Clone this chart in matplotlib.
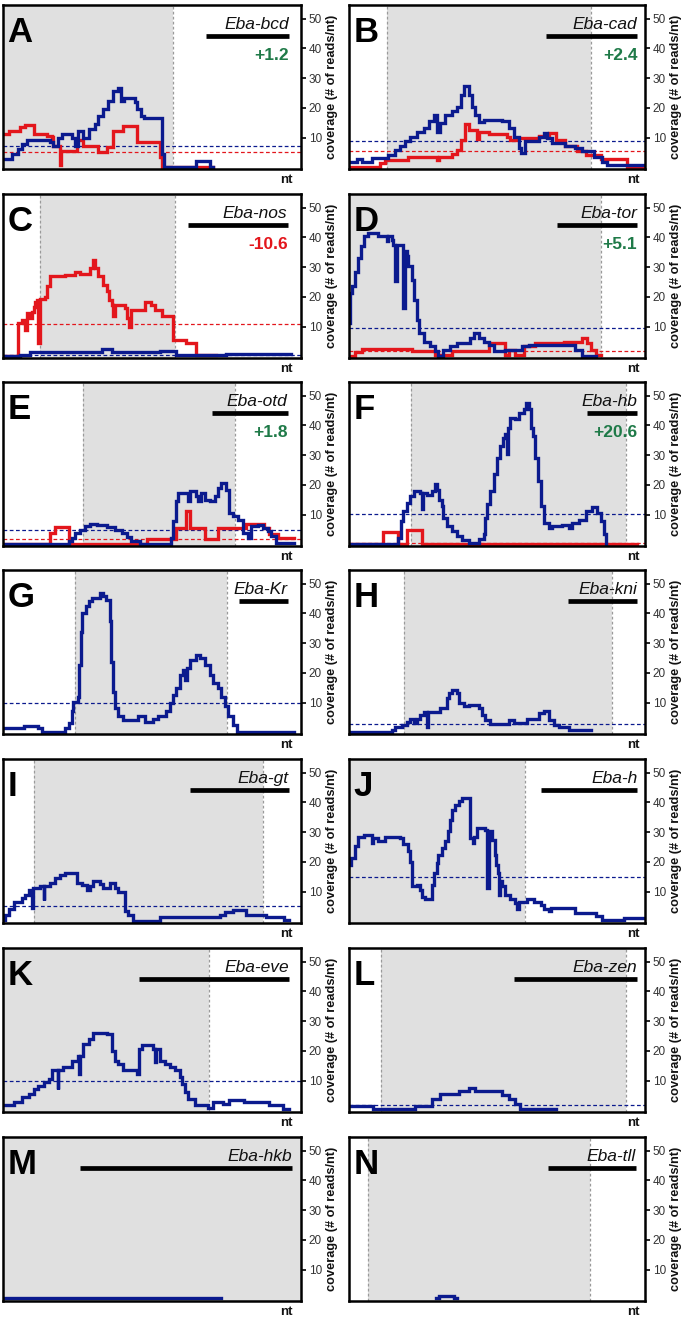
import matplotlib
matplotlib.use('Agg')
import matplotlib.pyplot as plt

plt.rcParams['font.family'] = ['Liberation Sans', 'DejaVu Sans']

# ---------------- data (x in % of panel width, y = coverage) ----------------
letters = ['A', 'B', 'C', 'D', 'E', 'F', 'G', 'H', 'I', 'J', 'K', 'L', 'M', 'N']
genes = ['Eba-bcd', 'Eba-cad', 'Eba-nos', 'Eba-tor', 'Eba-otd', 'Eba-hb', 'Eba-Kr',
         'Eba-kni', 'Eba-gt', 'Eba-h', 'Eba-eve', 'Eba-zen', 'Eba-hkb', 'Eba-tll']
fold_labels = ['+1.2', '+2.4', '-10.6', '+5.1', '+1.8', '+20.6', '', '', '', '', '', '', '', '']
fold_up = [True, True, False, True, True, True, True, True, True, True, True, True, True, True]
shades = [(0, 57.1), (12.8, 81.9), (12.3, 57.6), (0, 85.0), (27.0, 77.7), (21.0, 93.5),
          (24.2, 75.3), (18.7, 88.9), (10.3, 87.2), (0, 59.4), (0, 69.1), (10.8, 93.5),
          (0, 100), (6.4, 81.4)]
bars = [(68.0, 95.9), (66.4, 97.4), (62.1, 95.5), (70.3, 97.4), (70.2, 95.5), (80.5, 97.4),
        (79.2, 95.5), (74.0, 97.4), (62.9, 95.9), (65.0, 97.4), (45.7, 95.9), (55.6, 97.4),
        (26.0, 97.0), (67.2, 97.0)]
blue_dash = [7.0, 8.9, 0.5, 9.4, 4.9, 10.2, 9.8, 2.7, 5.2, 14.8, 9.7, 1.8, None, None]
red_dash = [5.0, 5.5, 10.9, 1.6, 1.9, 0.5, None, None, None, None, None, None, None, None]

A_blue_x = [0, 3.0, 5.2, 6.4, 8.0, 15.8, 16.9, 18.6, 19.7, 23.1, 24.2, 25.3, 27.0, 28.7, 30.9, 32.0,
            33.7, 35.3, 37.0, 38.7, 39.5, 40.6, 44.3, 45.0, 46.2, 47.3, 53.2, 54.0, 64.9, 69.3, 70.5]
A_blue_y = [2.8, 4.4, 6.1, 7.8, 9.2, 8.4, 7.0, 10.0, 11.2, 10.0, 7.2, 12.3, 10.0, 12.9, 14.5, 17.4,
            19.6, 22.4, 25.8, 26.7, 22.4, 23.3, 21.9, 19.6, 17.4, 16.5, 4.4, 0, 2.2, 0, 0]
A_red_x = [0, 1.9, 5.8, 7.5, 10.3, 14.7, 16.4, 16.9, 19.0, 19.6, 24.7, 26.8, 32.0, 34.8, 37.0, 40.4,
           44.8, 52.6, 53.5, 70.5]
A_red_y = [11.2, 12.3, 13.7, 14.3, 11.2, 10.6, 10.1, 7.0, 0.8, 5.6, 9.2, 7.0, 5.0, 6.7, 12.1, 14.0,
           8.4, 3.3, 0, 0]

B_blue_x = [0, 2.6, 4.3, 7.7, 13.3, 15.6, 17.3, 19.0, 20.7, 22.9, 25.2, 27.1, 28.6, 29.7, 30.8, 32.5,
            34.8, 36.5, 37.9, 38.7, 40.4, 41.5, 42.7, 43.8, 45.5, 51.7, 53.9, 55.6, 57.3, 58.2, 59.4,
            64.1, 65.8, 66.9, 68.6, 73.1, 76.5, 78.8, 82.7, 85.6, 87.2, 99.7]
B_blue_y = [1.6, 2.7, 1.6, 3.0, 4.2, 5.8, 7.0, 8.7, 10.1, 11.7, 13.1, 15.4, 17.6, 12.0, 14.8, 17.6,
            18.8, 20.4, 24.4, 27.4, 24.4, 20.4, 17.6, 15.1, 16.0, 15.4, 13.1, 10.3, 6.4, 4.7, 8.7,
            10.3, 11.5, 9.8, 8.1, 7.0, 6.4, 5.3, 3.6, 1.9, 0.8, 0.8]
B_red_x = [0, 10.5, 12.2, 20.1, 29.7, 30.5, 34.8, 36.5, 37.9, 39.1, 40.6, 43.2, 43.8, 47.2, 53.4,
           54.5, 56.8, 64.1, 67.5, 69.8, 73.1, 77.1, 79.9, 85.0, 94.0, 99.7]
B_red_y = [0, 1.3, 2.5, 3.4, 2.5, 3.6, 4.5, 5.8, 9.2, 14.6, 12.6, 9.5, 11.7, 11.2, 10.1, 9.2, 9.8,
           10.6, 11.5, 9.2, 7.0, 5.3, 4.2, 2.7, 0.2, 0.2]

C_blue_x = [0, 5.8, 9.1, 33.1, 36.5, 52.6, 58.2, 74.9, 96.7]
C_blue_y = [0.2, 0.5, 1.3, 2.4, 1.3, 1.6, 0.5, 0.7, 0.7]
C_red_x = [0, 4.9, 6.4, 7.5, 8.0, 9.1, 9.7, 10.3, 10.8, 11.4, 11.9, 12.5, 14.2, 14.7, 15.8, 20.8,
           24.2, 25.9, 29.2, 30.1, 30.9, 32.0, 33.7, 34.8, 35.7, 36.5, 37.0, 37.6, 40.9, 41.5, 42.4,
           43.1, 47.6, 49.8, 50.9, 53.2, 57.1, 61.5, 64.9, 71.6]
C_red_y = [0, 11.1, 12.2, 8.9, 14.5, 12.8, 15.0, 16.7, 18.4, 19.0, 4.4, 19.2, 20.1, 23.5, 26.9, 27.4,
           28.2, 27.8, 29.7, 32.5, 29.7, 26.9, 24.0, 21.8, 19.0, 17.3, 13.4, 17.3, 16.2, 12.8, 10.0,
           15.6, 18.4, 17.3, 15.4, 13.4, 5.5, 4.4, 0.5, 0.5]

D_blue_x = [0, 0.3, 1.1, 2.0, 3.2, 4.1, 5.2, 6.5, 9.9, 12.8, 13.3, 14.4, 15.0, 15.6, 16.1, 18.4, 18.8,
            19.5, 20.1, 21.2, 22.1, 22.9, 23.7, 25.2, 27.4, 29.1, 30.2, 31.9, 34.2, 36.5, 41.0, 42.1,
            43.8, 45.5, 47.2, 48.9, 52.8, 58.5, 60.7, 76.5, 78.8, 83.3]
D_blue_y = [11.1, 21.2, 23.5, 28.5, 33.0, 37.0, 40.3, 41.5, 40.6, 38.7, 40.3, 39.2, 37.5, 25.2, 37.5,
            16.2, 35.3, 33.6, 30.2, 25.7, 19.0, 12.2, 7.8, 4.9, 3.3, 1.6, 0.1, 2.1, 3.3, 4.4, 6.1, 7.8,
            6.1, 4.9, 3.8, 1.6, 2.1, 3.3, 3.8, 2.1, 0, 0]
D_red_x = [0, 2.0, 4.3, 21.2, 29.1, 34.8, 47.2, 52.8, 54.0, 56.2, 59.0, 63.0, 72.6, 78.8, 80.5, 81.6,
           83.3, 85.0]
D_red_y = [0.1, 1.3, 2.5, 1.6, 0.4, 1.6, 4.4, 0.4, 2.1, 0.4, 3.3, 4.4, 4.9, 6.1, 4.4, 2.1, 0.4, 0.4]

E_blue_x = [0, 22.0, 23.1, 24.2, 25.9, 27.5, 29.2, 31.4, 34.8, 37.6, 39.8, 41.5, 43.1, 45.9, 56.5,
            57.1, 58.0, 58.8, 62.2, 62.7, 64.9, 65.4, 66.6, 67.7, 69.3, 71.0, 72.1, 73.2, 74.9, 76.0,
            77.1, 78.8, 80.5, 82.2, 83.3, 85.5, 87.2, 88.9, 90.0, 91.6, 97.8]
E_blue_y = [0, 1.0, 2.1, 3.8, 4.9, 6.1, 6.9, 6.4, 5.7, 4.9, 3.8, 2.4, 1.0, 0, 2.1, 7.8, 14.5, 17.3,
            14.5, 17.9, 16.2, 14.5, 17.3, 15.0, 14.5, 16.2, 19.0, 20.7, 18.4, 10.6, 9.4, 8.3, 3.8,
            2.1, 6.1, 6.6, 5.5, 4.4, 2.7, 0.4, 0.4]
E_red_x = [0, 15.8, 17.5, 22.0, 48.2, 58.2, 61.5, 62.9, 67.7, 72.1, 81.6, 87.7, 89.4, 92.2, 97.8]
E_red_y = [0, 3.8, 5.7, 0, 1.9, 5.5, 11.1, 5.5, 1.9, 5.3, 6.9, 5.5, 3.5, 2.1, 2.1]

F_blue_x = [0, 16.7, 17.6, 18.4, 19.5, 20.7, 21.8, 24.0, 24.6, 24.9, 26.3, 28.0, 28.9, 29.7, 30.5,
            31.4, 31.9, 33.1, 34.8, 36.5, 38.1, 40.4, 43.8, 45.5, 46.0, 46.6, 47.7, 48.9, 50.0, 51.1,
            51.9, 52.8, 53.4, 53.7, 54.5, 56.2, 57.3, 59.0, 59.8, 60.7, 61.5, 62.1, 63.0, 63.9, 64.7,
            65.8, 67.5, 68.6, 72.0, 74.3, 75.4, 77.7, 79.9, 82.2, 83.9, 85.0, 86.1, 86.9]
F_blue_y = [0, 2.1, 7.8, 11.1, 13.9, 16.2, 17.9, 17.3, 11.7, 17.3, 16.7, 17.9, 20.1, 18.4, 15.0,
            12.8, 8.9, 6.1, 4.4, 2.7, 1.3, 0.4, 1.6, 3.3, 8.9, 13.4, 17.9, 23.5, 29.1, 33.0, 35.8,
            37.0, 30.2, 39.2, 42.6, 42.0, 44.3, 45.4, 47.6, 45.4, 39.2, 36.4, 29.1, 21.2, 12.8, 7.2,
            5.5, 6.1, 6.6, 5.5, 7.2, 8.3, 11.1, 12.5, 10.6, 7.8, 3.3, 0]
F_red_x = [0, 11.6, 16.7, 19.5, 24.6, 97.4]
F_red_y = [0, 4.0, 0, 4.9, 0, 0]

G_blue_x = [0, 6.9, 11.9, 13.0, 20.8, 22.0, 23.1, 23.6, 25.0, 25.5, 26.1, 26.6, 27.8, 28.7, 29.8,
            32.6, 33.7, 34.6, 35.9, 36.2, 36.8, 37.6, 38.7, 40.4, 45.4, 47.6, 50.4, 52.1, 54.8, 56.0,
            57.1, 58.2, 59.3, 60.4, 61.0, 61.8, 62.7, 64.9, 66.0, 67.7, 69.3, 70.4, 72.1, 73.2, 74.4,
            75.5, 77.1, 78.5, 97.8]
G_blue_y = [1.3, 2.2, 1.3, 0, 1.3, 3.0, 7.0, 10.3, 12.0, 22.7, 33.9, 40.1, 42.4, 44.3, 45.2, 46.9,
            45.7, 44.6, 37.3, 23.8, 13.7, 8.1, 5.3, 4.2, 5.3, 3.6, 4.5, 5.3, 7.0, 9.8, 12.6, 14.8,
            19.3, 21.0, 17.6, 21.6, 24.4, 26.1, 24.9, 22.7, 19.3, 16.5, 14.8, 12.0, 8.7, 5.3, 2.5,
            0, 0]

H_blue_x = [0, 14.4, 15.6, 17.8, 19.5, 20.7, 21.8, 22.9, 24.0, 25.2, 26.3, 26.6, 30.8, 33.1, 33.9,
            34.8, 36.5, 37.0, 38.7, 40.4, 43.8, 44.9, 46.0, 47.7, 54.0, 55.6, 60.2, 64.1, 65.8, 67.5,
            69.2, 70.9, 74.3, 81.6]
H_blue_y = [0, 0.8, 1.6, 2.5, 3.4, 4.5, 3.0, 4.5, 5.8, 6.7, 1.6, 6.7, 8.3, 11.5, 13.1, 14.3, 13.1,
            9.8, 8.7, 9.2, 8.1, 5.8, 4.2, 2.7, 4.2, 3.0, 4.5, 6.4, 7.0, 4.2, 2.5, 1.6, 0.8, 0.8]

I_blue_x = [0, 0.8, 1.9, 3.6, 6.4, 7.5, 8.6, 9.7, 10.0, 12.5, 13.6, 13.9, 15.8, 17.5, 19.2, 20.8,
            24.7, 26.4, 28.1, 29.2, 30.3, 32.6, 33.7, 35.9, 37.6, 38.7, 40.9, 42.0, 43.7, 52.6, 72.7,
            74.4, 77.1, 81.6, 88.3, 94.4, 96.1]
I_blue_y = [0.4, 2.1, 4.2, 6.6, 7.8, 8.9, 10.6, 4.4, 11.1, 11.7, 7.2, 11.7, 12.8, 14.5, 15.6, 16.2,
            12.8, 12.2, 10.6, 11.7, 13.6, 12.5, 11.3, 12.8, 11.1, 10.0, 3.3, 2.1, 0.2, 1.3, 2.1, 3.0,
            3.8, 2.1, 1.3, 0.4, 0.4]

J_blue_x = [0, 0.7, 2.0, 3.2, 4.9, 7.7, 8.2, 9.9, 12.2, 17.3, 18.4, 20.1, 20.7, 21.2, 22.9, 24.0,
            24.6, 25.7, 28.0, 28.6, 29.7, 30.2, 31.4, 32.5, 33.4, 34.2, 34.8, 35.9, 37.0, 38.1, 41.0,
            41.8, 42.3, 43.2, 46.0, 46.6, 47.2, 48.3, 49.2, 49.7, 50.3, 50.8, 51.1, 51.7, 52.8, 54.5,
            56.2, 56.8, 57.3, 60.2, 62.4, 64.7, 65.8, 67.5, 68.1, 76.5, 83.3, 85.6, 92.9, 99.7]
J_blue_y = [19.0, 21.2, 25.2, 28.2, 29.1, 26.3, 28.0, 27.1, 28.5, 28.0, 26.0, 23.5, 20.1, 11.7, 12.2,
            10.6, 8.3, 7.5, 12.2, 16.2, 19.6, 22.4, 24.6, 27.1, 30.2, 34.2, 37.5, 39.2, 40.3, 41.5,
            28.0, 26.3, 28.5, 31.3, 30.8, 11.1, 30.2, 27.4, 22.4, 19.0, 16.2, 8.9, 13.4, 11.7, 8.9,
            7.5, 6.1, 4.2, 6.6, 7.4, 6.6, 5.5, 4.2, 3.3, 4.6, 2.7, 1.6, 0.4, 1.0, 1.0]

K_blue_x = [0, 3.6, 6.4, 8.6, 10.3, 11.9, 13.6, 15.3, 16.4, 18.3, 18.6, 20.3, 23.1, 25.3, 25.6, 26.0,
            27.0, 28.7, 30.3, 34.8, 36.5, 37.6, 38.7, 40.4, 44.8, 45.7, 46.8, 50.4, 50.9, 51.5, 52.6,
            54.3, 56.0, 57.6, 59.3, 60.2, 61.0, 62.1, 64.3, 68.8, 70.5, 73.8, 76.0, 81.0, 89.4, 93.9,
            96.1]
K_blue_y = [1.6, 2.7, 4.4, 5.5, 7.0, 8.3, 9.4, 10.6, 13.4, 7.2, 13.4, 14.5, 16.7, 18.4, 12.2, 18.4,
            22.4, 24.0, 26.1, 25.7, 20.1, 16.7, 15.6, 13.4, 12.2, 20.7, 21.8, 20.7, 16.2, 20.7, 16.7,
            15.6, 14.5, 13.4, 11.1, 8.9, 6.1, 3.8, 1.6, 0.8, 2.7, 2.1, 3.6, 2.7, 1.8, 0.4, 0.4]

L_blue_x = [0, 8.2, 22.3, 28.0, 30.8, 37.0, 40.4, 42.7, 51.7, 53.9, 56.2, 57.9, 69.8]
L_blue_y = [1.3, 0.4, 1.3, 3.8, 5.5, 6.6, 7.4, 6.6, 5.2, 3.8, 2.1, 0.4, 0.4]

M_blue_x = [0, 73.0]
M_blue_y = [0.3, 0.3]

N_blue_x = [29.5, 30.5, 35.5, 36.5]
N_blue_y = [0.3, 1.2, 0.3, 0.3]

blue_series = [(A_blue_x, A_blue_y), (B_blue_x, B_blue_y), (C_blue_x, C_blue_y), (D_blue_x, D_blue_y),
               (E_blue_x, E_blue_y), (F_blue_x, F_blue_y), (G_blue_x, G_blue_y), (H_blue_x, H_blue_y),
               (I_blue_x, I_blue_y), (J_blue_x, J_blue_y), (K_blue_x, K_blue_y), (L_blue_x, L_blue_y),
               (M_blue_x, M_blue_y), (N_blue_x, N_blue_y)]
red_series = [(A_red_x, A_red_y), (B_red_x, B_red_y), (C_red_x, C_red_y), (D_red_x, D_red_y),
              (E_red_x, E_red_y), (F_red_x, F_red_y)] + [None] * 8

y_ticks = [10, 20, 30, 40, 50]

# ---------------- styling / layout ----------------
BLUE = '#0b1a8e'
RED = '#e3161c'
GREEN = '#1f7a48'
SHADE = '#e0e0e0'
W, H = 685, 1324
col_x = [(3, 298), (349, 296)]
row_top = [5, 194, 382, 570, 759, 948, 1137]
ax_h = 164

fig = plt.figure(figsize=(W / 100, H / 100), dpi=100)

for i, letter in enumerate(letters):
    r, c = divmod(i, 2)
    x0, w = col_x[c]
    top = row_top[r]
    ax = fig.add_axes([x0 / W, 1 - (top + ax_h) / H, w / W, ax_h / H])
    ax.set_xlim(0, 100)
    ax.set_ylim(-0.6, 54.6)

    s0, s1 = shades[i]
    ax.axvspan(s0, s1, color=SHADE, lw=0, zorder=0)
    for v in (s0, s1):
        if 0 < v < 100:
            ax.axvline(v, color='#9a9a9a', lw=0.9, ls=(0, (2.2, 1.8)), zorder=1)

    if blue_dash[i] is not None:
        ax.axhline(blue_dash[i], color=BLUE, lw=0.9, ls=(0, (3, 2)), zorder=2)
    if red_dash[i] is not None:
        ax.axhline(red_dash[i], color=RED, lw=0.9, ls=(0, (3, 2)), zorder=2)

    if red_series[i] is not None:
        rx, ry = red_series[i]
        ax.plot(rx, ry, drawstyle='steps-post', color=RED, lw=2.4, zorder=3,
                solid_joinstyle='miter')
    bx, by = blue_series[i]
    ax.plot(bx, by, drawstyle='steps-post', color=BLUE, lw=2.4, zorder=4,
            solid_joinstyle='miter')

    b0, b1 = bars[i]
    ax.plot([b0, b1], [44, 44], color='black', lw=3.4, solid_capstyle='butt', zorder=5)
    ax.text(b1, 46.6, genes[i], ha='right', va='baseline', fontsize=12.5, style='italic',
            color='#111111', zorder=6)
    if fold_labels[i]:
        ax.text(b1, 36.2, fold_labels[i], ha='right', va='baseline', fontsize=12.5,
                weight='bold', color=GREEN if fold_up[i] else RED, zorder=6)

    ax.text(0.015, 0.935, letter, transform=ax.transAxes, ha='left', va='top',
            fontsize=25, weight='bold', color='black', zorder=6)

    ax.set_xticks([])
    ax.yaxis.tick_right()
    ax.set_yticks(y_ticks)
    ax.tick_params(axis='y', direction='out', length=3.5, width=1.2, labelsize=8.5,
                   labelcolor='#333333', pad=2)
    ax.yaxis.set_label_position('right')
    ax.set_ylabel('coverage (# of reads/nt)', fontsize=9.2, weight='bold', color='#111111')
    ax.yaxis.set_label_coords(1.085, 0.5)
    for sp in ax.spines.values():
        sp.set_linewidth(1.8)
        sp.set_color('black')
        sp.set_zorder(7)
    nt_x = 0.95 if c == 0 else 0.962
    ax.text(nt_x, -0.067, 'nt', transform=ax.transAxes, ha='center', va='center',
            fontsize=9.5, weight='bold', color='#111111')

fig.savefig('out.png', dpi=100)
